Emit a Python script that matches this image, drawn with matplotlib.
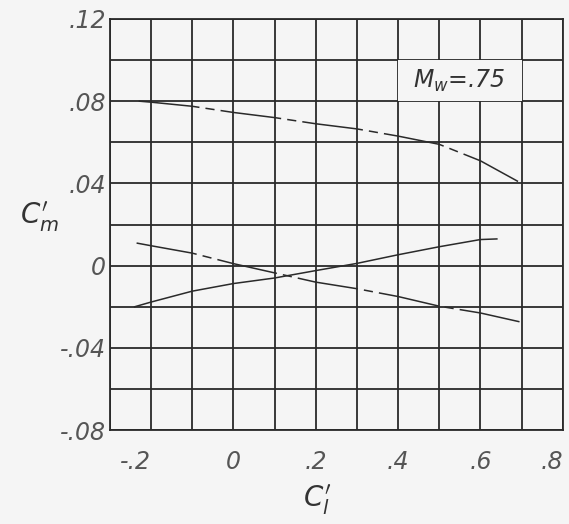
import numpy as np
import matplotlib
matplotlib.use("Agg")
import matplotlib.pyplot as plt
from matplotlib.patches import Rectangle

# values (M_w = .75)
cl_top = [-0.23, -0.2, -0.1, 0.0, 0.1, 0.2, 0.3, 0.4, 0.5, 0.6, 0.7]
cm_top = [0.080, 0.0795, 0.0775, 0.0745, 0.072, 0.069, 0.0665, 0.063, 0.059, 0.051, 0.040]

cl_down = [-0.235, -0.2, -0.1, 0.0, 0.1, 0.2, 0.3, 0.4, 0.5, 0.6, 0.7]
cm_down = [0.011, 0.0097, 0.0061, 0.001, -0.0035, -0.008, -0.0112, -0.015, -0.0197, -0.023, -0.0275]

cl_up = [-0.24, -0.2, -0.1, 0.0, 0.1, 0.2, 0.3, 0.4, 0.5, 0.6, 0.64]
cm_up = [-0.020, -0.0177, -0.0124, -0.0087, -0.006, -0.0024, 0.0011, 0.0053, 0.0092, 0.0127, 0.0130]

x_ticks = [-0.2, 0.0, 0.2, 0.4, 0.6, 0.8]
x_labels = ["-.2", "0", ".2", ".4", ".6", ".8"]
y_ticks = [-0.08, -0.04, 0.0, 0.04, 0.08, 0.12]
y_labels = ["-.08", "-.04", "0", ".04", ".08", ".12"]

paper = "#f5f5f5"
ink = "#2a2a2a"
txt = "#555555"

fig = plt.figure(figsize=(5.69, 5.24), dpi=100, facecolor=paper)
ax = fig.add_axes([0.193, 0.179, 0.796, 0.785])
ax.set_facecolor(paper)

ax.set_xlim(-0.3, 0.8)
ax.set_ylim(-0.08, 0.12)
ax.set_xticks(np.arange(-0.3, 0.81, 0.1), minor=True)
ax.set_yticks(np.arange(-0.08, 0.121, 0.02), minor=True)
ax.set_xticks(x_ticks)
ax.set_yticks(y_ticks)
ax.set_xticklabels(x_labels, fontsize=17, color=txt, style="italic")
ax.set_yticklabels(y_labels, fontsize=17, color=txt, style="italic")
xl = ax.get_xticklabels()
xl[0].set_ha("right")
xl[-1].set_ha("right")
ax.tick_params(which="both", length=0)
ax.tick_params(axis="x", pad=14)
ax.tick_params(axis="y", pad=3)
ax.grid(True, which="both", color=ink, linewidth=1.3)
for s in ax.spines.values():
    s.set_color(ink)
    s.set_linewidth(1.3)

dash = (0, (40, 4, 6, 4))
ax.plot(cl_top, cm_top, color=ink, lw=1.1, ls=dash)
ax.plot(cl_down, cm_down, color=ink, lw=1.1, ls=dash)
ax.plot(cl_up, cm_up, color=ink, lw=1.1)

# label box covering grid lines
ax.add_patch(Rectangle((0.4, 0.08), 0.3, 0.02, facecolor=paper, edgecolor="none", zorder=3))
ax.text(0.55, 0.09, r"$M_w$=.75", fontsize=17, color="#333333", style="italic",
        ha="center", va="center", zorder=4)

ax.text(-0.155, 0.52, r"$C_m^{\prime}$", transform=ax.transAxes, fontsize=20,
        color="#333333", ha="center", va="center")
ax.text(0.457, -0.17, r"$C_l^{\prime}$", transform=ax.transAxes, fontsize=20,
        color="#333333", ha="center", va="center")

fig.savefig("out.png", dpi=100, facecolor=paper)
